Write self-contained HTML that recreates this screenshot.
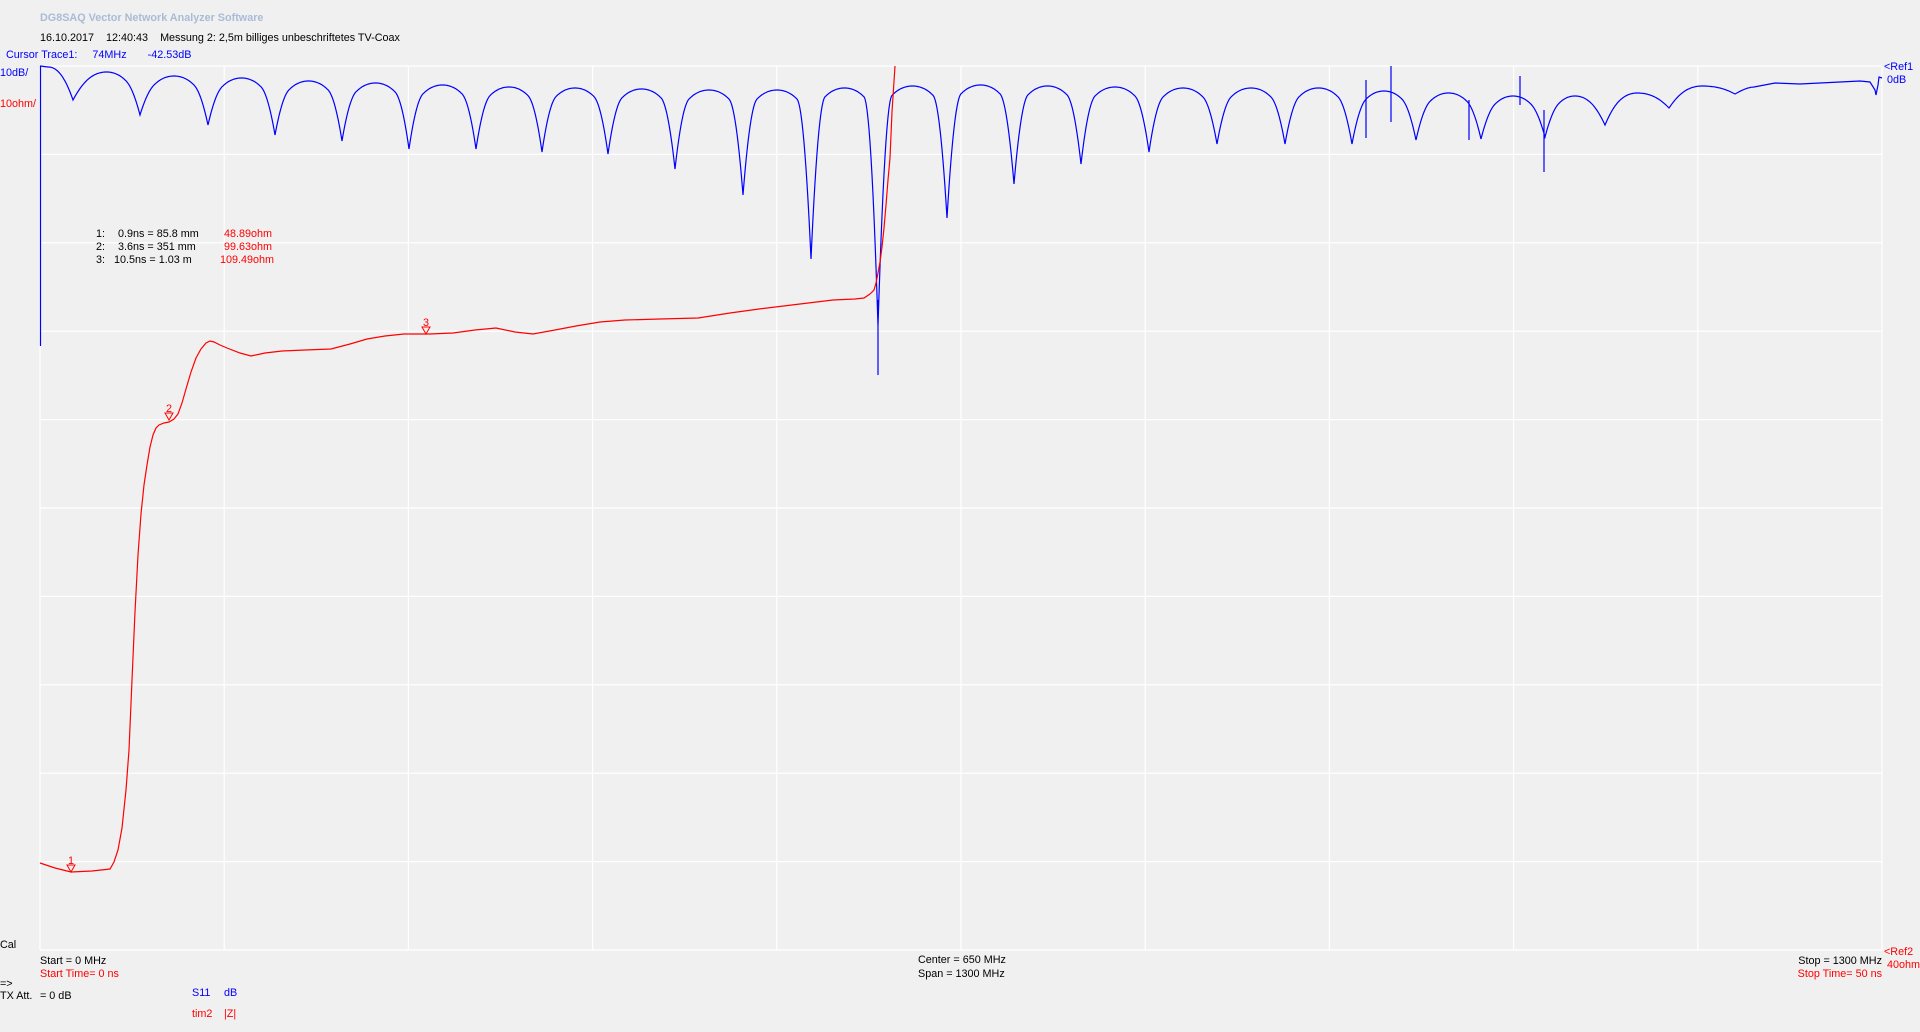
<!DOCTYPE html>
<html><head><meta charset="utf-8"><style>
html,body{margin:0;padding:0;background:#f0f0f0;width:1920px;height:1032px;overflow:hidden}
svg{position:absolute;left:0;top:0}
text{font-family:"Liberation Sans",sans-serif;font-size:10.8px}
</style></head><body>
<svg id="s" width="1920" height="1032" xmlns="http://www.w3.org/2000/svg">
<g id="grid" stroke="#ffffff" stroke-width="1.2"></g>
<path id="blue" fill="none" stroke="#0000ff" stroke-width="1.2"/>
<line x1="40.5" y1="66" x2="40.5" y2="346" stroke="#0000ff" stroke-width="1.2"/>
<path id="red" fill="none" stroke="#ff0000" stroke-width="1.2"/>
<text x="40" y="21" fill="#a8bcd6" font-weight="bold">DG8SAQ Vector Network Analyzer Software</text>
<text x="40" y="41" fill="#000">16.10.2017&#160;&#160;&#160; 12:40:43&#160;&#160;&#160; Messung 2: 2,5m billiges unbeschriftetes TV-Coax</text>
<text x="6" y="58" fill="#0000ff">Cursor Trace1:&#160;&#160;&#160;&#160; 74MHz&#160;&#160;&#160;&#160;&#160;&#160; -42.53dB</text>
<text x="0" y="76" fill="#0000ff">10dB/</text>
<text x="0" y="107" fill="#ff0000">10ohm/</text>
<text x="1884" y="70" fill="#0000ff">&lt;Ref1</text>
<text x="1887" y="83" fill="#0000ff">0dB</text>
<text x="1884" y="955" fill="#ff0000">&lt;Ref2</text>
<text x="1887" y="968" fill="#ff0000">40ohm</text>
<text x="0" y="948" fill="#000">Cal</text>
<text x="40" y="964" fill="#000">Start = 0 MHz</text>
<text x="40" y="977" fill="#ff0000">Start Time= 0 ns</text>
<text x="918" y="963" fill="#000">Center = 650 MHz</text>
<text x="918" y="977" fill="#000">Span = 1300 MHz</text>
<text x="1882" y="964" fill="#000" text-anchor="end">Stop = 1300 MHz</text>
<text x="1882" y="977" fill="#ff0000" text-anchor="end">Stop Time= 50 ns</text>
<text x="0" y="987" fill="#000">=&gt;</text>
<text x="0" y="999" fill="#000">TX Att.</text>
<text x="40" y="999" fill="#000">= 0 dB</text>
<text x="192" y="996" fill="#0000ff">S11</text>
<text x="224" y="996" fill="#0000ff">dB</text>
<text x="192" y="1017" fill="#ff0000">tim2</text>
<text x="224" y="1017" fill="#ff0000">|Z|</text>
<text x="96" y="237" fill="#000">1:</text><text x="118" y="237" fill="#000">0.9ns = 85.8 mm</text><text x="272" y="237" fill="#ff0000" text-anchor="end">48.89ohm</text>
<text x="96" y="250" fill="#000">2:</text><text x="118" y="250" fill="#000">3.6ns = 351 mm</text><text x="272" y="250" fill="#ff0000" text-anchor="end">99.63ohm</text>
<text x="96" y="263" fill="#000">3:</text><text x="114" y="263" fill="#000">10.5ns = 1.03 m</text><text x="274" y="263" fill="#ff0000" text-anchor="end">109.49ohm</text>
<g fill="none" stroke="#ff0000" stroke-width="1">
<path d="M67,865 L75,865 L71,872 Z"/><path d="M165,413 L173,413 L169,420 Z"/><path d="M422,327 L430,327 L426,334 Z"/>
</g>
<text x="71" y="864" fill="#ff0000" text-anchor="middle">1</text>
<text x="169" y="412" fill="#ff0000" text-anchor="middle">2</text>
<text x="426" y="326" fill="#ff0000" text-anchor="middle">3</text>
</svg>
<script>
var g=document.getElementById('grid'),h='';
for(var i=0;i<=10;i++){var x=(40+184.2*i).toFixed(1);h+='<line x1="'+x+'" y1="66" x2="'+x+'" y2="950"/>';}
for(var j=0;j<=10;j++){var y=(66+88.4*j).toFixed(1);h+='<line x1="40" y1="'+y+'" x2="1882" y2="'+y+'"/>';}
g.innerHTML=h;
var dy=[100,115,125,135,141,149,149,152,154,169,195,259,326,218,184,164,152,144,144,144,140,139,137,125,108,94];
var xs=[73,140,208,275,342,409,476,542,608,675,743,811,878,947,1014,1081,1149,1217,1285,1352,1416,1481,1545,1605,1669,1735];
var pk=[72,76,78,81,83,85,87,88,89,90,90,88,86,85,86,87,88,88,88,91,93,96,96,93,86];
var pts=[[40,66],[48,67]];
for(var x=49;x<=73;x++){var u=(x-48)/25;pts.push([x,67+(100-67)*Math.pow(u,2.2)]);}
function dipAdd(x,xd,d,p){var a=d-p,base=Math.min(a,30),ex=a-base,w=14,dist=Math.abs(x-xd);return ex>0&&dist<w?ex*Math.pow(1-dist/w,2):0;}
for(var k=0;k<xs.length-1;k++){
 var x0=xs[k],x1=xs[k+1],y0=dy[k],y1=dy[k+1],p=pk[k];
 for(var x=x0+1;x<=x1;x++){var u=(x-x0)/(x1-x0);
  var b0=Math.min(y0-p,30),b1=Math.min(y1-p,30);
  var b=u<0.5?b0:b1;
  var v=1-Math.sin(Math.PI*u);
  var y=p+b*v*(0.6+0.4*v);
  y+=dipAdd(x,x0,y0,p)+dipAdd(x,x1,y1,p);
  pts.push([x,y]);}
}
for(var x=1736;x<1755;x++){var u=(x-1735)/20;pts.push([x,94-(94-87)*Math.sin(u*Math.PI/2)]);}
[[1775,83],[1800,84],[1820,83],[1840,82],[1860,81],[1870,82],[1875,90],[1876,95],[1878,85],[1879,77],[1882,78]].forEach(function(t){pts.push(t)});
var spikes={1366:[80,138],1391:[66,122],1469:[100,140],1520:[76,105],1544:[110,172],878:[300,375]};
var d='';
pts.forEach(function(q,i){
 var x=q[0],y=q[1];
 d+=(i?'L':'M')+x+','+y.toFixed(1);
 if(spikes[x]){d+='L'+x+','+spikes[x][0]+'L'+x+','+spikes[x][1]+'L'+x+','+y.toFixed(1);}
});
document.getElementById('blue').setAttribute('d',d);
var r=[[40,863],[55,868],[71,872],[92,871],[110,869],[114,862],[118,850],[122,828],[126,790],[129,750],[132,680],[135,612],[138,555],[141,514],[144,485],[147,465],[150,447],[153,435],[156,428],[159,425],[164,423],[169,422],[174,419],[178,414],[182,403],[186,389],[191,372],[196,358],[201,349],[206,343],[210,341],[214,342],[220,345],[227,348],[240,353],[251,356],[265,353],[282,351],[305,350],[331,349],[350,344],[367,339],[385,336],[404,334],[430,334],[453,333],[475,330],[496,328],[515,332],[533,334],[555,330],[576,326],[600,322],[625,320],[660,319],[698,318],[730,313],[759,309],[800,304],[833,300],[855,299],[864,298],[870,294],[874,290],[876,283],[878,273],[880,262],[882,247],[884,228],[886,205],[888,180],[890,158],[892,112],[895,66]];
document.getElementById('red').setAttribute('d','M'+r.map(function(q){return q.join(',')}).join('L'));
</script>
</body></html>
